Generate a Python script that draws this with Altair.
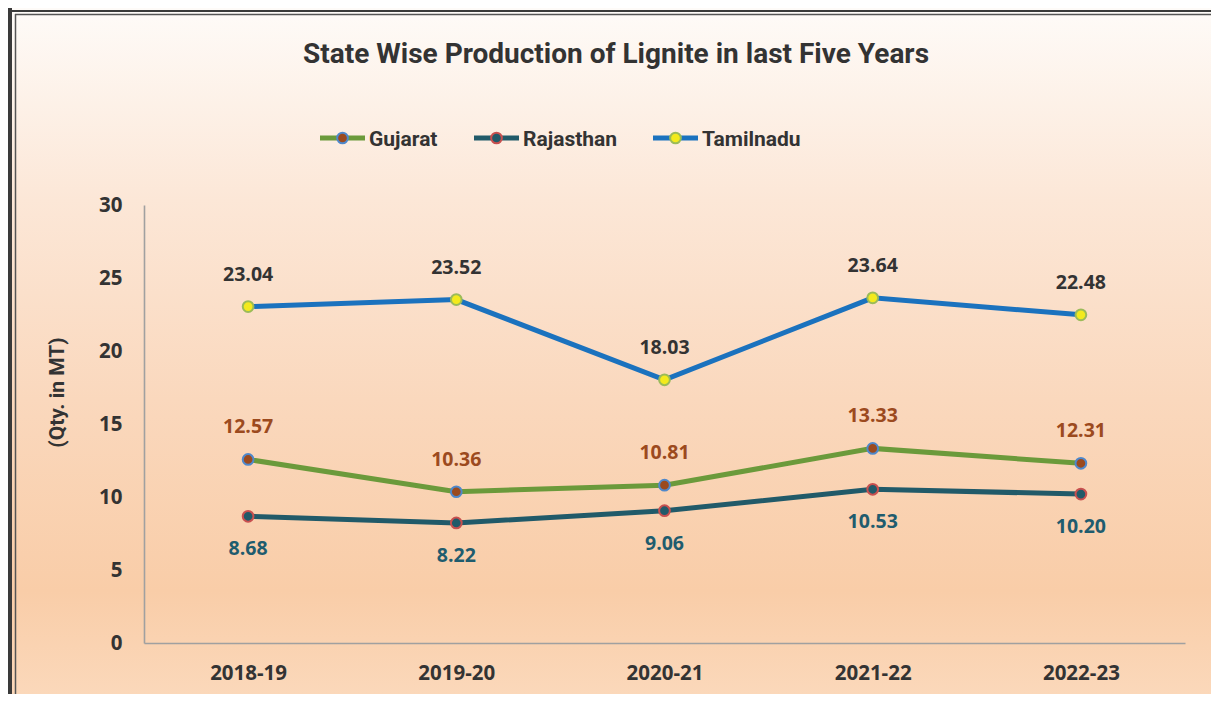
import altair as alt
import pandas as pd

# ---------------- data ----------------
years = ["2018-19", "2019-20", "2020-21", "2021-22", "2022-23"]
gujarat = [12.57, 10.36, 10.81, 13.33, 12.31]
rajasthan = [8.68, 8.22, 9.06, 10.53, 10.20]
tamilnadu = [23.04, 23.52, 18.03, 23.64, 22.48]
series = ["Gujarat", "Rajasthan", "Tamilnadu"]
y_ticks = [0, 5, 10, 15, 20, 25, 30]
title_text = "State Wise Production of Lignite in last Five Years"
y_title = "(Qty. in MT)"

# ---------------- styles ----------------
line_colors = ["#6B9A3B", "#215A69", "#1B72BE"]
point_fills = ["#9B4A1F", "#215A69", "#F3EA1D"]
point_strokes = ["#4F88CB", "#C8504F", "#9BBB59"]
label_colors = ["#9C4A1E", "#1F5C6E", "#333333"]
label_dy = [-32, 33, -32]
legend_x = [176, 330, 509]

NARROW = "Roboto"
NUMFONT = "Open Sans"

W, H = 1041, 438
PAD_L, PAD_T, PAD_R, PAD_B = 136, 197, 26, 51
TOTAL_W = W + PAD_L + PAD_R
TOTAL_H = H + PAD_T + PAD_B

rows = []
for s, vals in zip(series, [gujarat, rajasthan, tamilnadu]):
    for yr, v in zip(years, vals):
        rows.append({"series": s, "year": yr, "value": v, "label": f"{v:.2f}"})
df = pd.DataFrame(rows)
one = pd.DataFrame({"a": [0]})

x_enc = alt.X(
    "year:N",
    scale=alt.Scale(type="point", domain=years, padding=0.5),
    axis=alt.Axis(
        title=None, labelAngle=0, labelFont=NUMFONT, labelFontWeight="bold",
        labelFontSize=20.5, labelColor="#333333", labelPadding=20,
        domainColor="#A0A0A0", domainWidth=1.6, ticks=False, grid=False,
        zindex=1,
    ),
)
y_enc = alt.Y(
    "value:Q",
    scale=alt.Scale(domain=[0, 30], nice=False, zero=True),
    axis=alt.Axis(
        values=y_ticks, title=y_title, titleFont=NARROW, titleFontSize=21,
        titleFontWeight="bold", titleColor="#333333", titleAngle=-90,
        titleX=-87, titleY=187, titleAlign="center", titleBaseline="middle",
        labelFont=NUMFONT, labelFontWeight="bold", labelFontSize=20.5,
        labelColor="#333333", labelPadding=22,
        domainColor="#A0A0A0", domainWidth=1.6, ticks=False, grid=False,
        zindex=1,
    ),
)

# background gradient
bg = alt.Chart(one).mark_rect(
    color=alt.LinearGradient(
        gradient="linear",
        stops=[
            alt.GradientStop(color="#FEFBF8", offset=0.0),
            alt.GradientStop(color="#FCE7D7", offset=0.28),
            alt.GradientStop(color="#FAD8BD", offset=0.57),
            alt.GradientStop(color="#F9CDA8", offset=0.85),
            alt.GradientStop(color="#FBD8BA", offset=1.0),
        ],
        x1=0, x2=0, y1=0, y2=1,
    )
).encode(
    x=alt.value(-PAD_L), x2=alt.value(TOTAL_W - PAD_L),
    y=alt.value(-PAD_T), y2=alt.value(TOTAL_H - PAD_T),
)

# frame pieces
frame = [
    alt.Chart(one).mark_rect(color="#3A3A3A").encode(
        x=alt.value(-PAD_L), x2=alt.value(-PAD_L + 4),
        y=alt.value(-PAD_T), y2=alt.value(TOTAL_H - PAD_T)),
    alt.Chart(one).mark_rect(color="#3A3A3A").encode(
        x=alt.value(-PAD_L), x2=alt.value(TOTAL_W - PAD_L),
        y=alt.value(-PAD_T + 2), y2=alt.value(-PAD_T + 4)),
    alt.Chart(one).mark_rule(color="#555555", strokeWidth=1.5).encode(
        x=alt.value(-PAD_L + 7.5), y=alt.value(-PAD_T + 6),
        y2=alt.value(TOTAL_H - PAD_T)),
    alt.Chart(one).mark_rule(color="#555555", strokeWidth=1.5).encode(
        x=alt.value(-PAD_L + 7), x2=alt.value(TOTAL_W - PAD_L),
        y=alt.value(-PAD_T + 6.5)),
]

lines, points, labels = [], [], []
for i, s in enumerate(series):
    sub = df[df.series == s]
    base = alt.Chart(sub).encode(x=x_enc, y=y_enc)
    lines.append(base.mark_line(color=line_colors[i], strokeWidth=5))
    points.append(base.mark_point(
        shape="circle", filled=True, size=115, opacity=1,
        fill=point_fills[i], stroke=point_strokes[i], strokeWidth=2))
    labels.append(base.mark_text(
        font=NUMFONT, fontWeight="bold", fontSize=19.5, color=label_colors[i],
        dy=label_dy[i], baseline="middle", align="center").encode(text="label:N"))

title = alt.Chart(one).mark_text(
    text=title_text, font=NARROW, fontSize=28, fontWeight="bold",
    color="#333333", align="center", baseline="alphabetic",
).encode(x=alt.value(472), y=alt.value(-142))

legend = []
for i, s in enumerate(series):
    lx = legend_x[i]
    legend.append(alt.Chart(one).mark_rule(color=line_colors[i], strokeWidth=5).encode(
        x=alt.value(lx), x2=alt.value(lx + 45), y=alt.value(-67)))
    legend.append(alt.Chart(one).mark_point(
        shape="circle", filled=True, size=115, opacity=1,
        fill=point_fills[i], stroke=point_strokes[i], strokeWidth=2).encode(
        x=alt.value(lx + 22.5), y=alt.value(-67)))
    legend.append(alt.Chart(one).mark_text(
        text=s, font=NARROW, fontSize=21, fontWeight="bold", color="#333333",
        align="left", baseline="alphabetic").encode(
        x=alt.value(lx + 49), y=alt.value(-59)))

chart = alt.layer(bg, *frame, *lines, *points, *labels, title, *legend).properties(
    width=W, height=H,
    autosize=alt.AutoSizeParams(type="none"),
    padding={"left": PAD_L, "top": PAD_T, "right": PAD_R, "bottom": PAD_B},
).configure_view(stroke=None)

chart.save("out.html", embed_options={"renderer": "svg", "actions": False})
